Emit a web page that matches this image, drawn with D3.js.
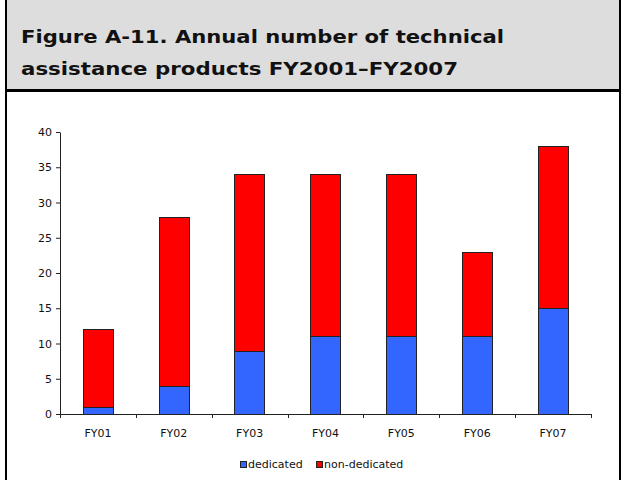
<!DOCTYPE html>
<meta charset="utf-8">
<title>Figure A-11</title>
<style>
body { margin: 0; background: #fff; }
svg { display: block; font-family: Verdana, "DejaVu Sans", sans-serif; }
</style>
<body>
<script src="https://cdn.jsdelivr.net/npm/d3@7"></script>
<script>
'use strict';

// values
const years = ["FY01", "FY02", "FY03", "FY04", "FY05", "FY06", "FY07"];
const dedicated = [1, 4, 9, 11, 11, 11, 15];
const nonDedicated = [11, 24, 25, 23, 23, 12, 23];
const seriesNames = ["dedicated", "non-dedicated"];
const seriesColors = ["#3366ff", "#ff0000"];
const yTicks = [0, 5, 10, 15, 20, 25, 30, 35, 40];
const titleLines = ["Figure A-11. Annual number of technical", "assistance products FY2001\u2013FY2007"];

const W = 632, H = 480;
const plot = {left: 60, right: 591, top: 132, bottom: 414};

const svg = d3.select("body").append("svg")
    .attr("width", W)
    .attr("height", H);

// title band + frame
svg.append("rect")
    .attr("x", 6).attr("y", -2)
    .attr("width", 614).attr("height", 92)
    .attr("fill", "#dddddd");
svg.append("rect")
    .attr("x", 6).attr("y", -2)
    .attr("width", 614).attr("height", H + 4)
    .attr("fill", "none")
    .attr("stroke", "#000")
    .attr("stroke-width", 2);
svg.append("line")
    .attr("x1", 6).attr("x2", 620)
    .attr("y1", 90.5).attr("y2", 90.5)
    .attr("stroke", "#000")
    .attr("stroke-width", 3);

// title: stretch to the widths of the original (Verdana is wider than DejaVu)
const titleWidths = [483, 437];
svg.selectAll(".title")
  .data(titleLines)
  .join("text")
    .attr("class", "title")
    .attr("x", 21)
    .attr("y", (d, i) => 43 + i * 32)
    .attr("font-weight", "bold")
    .attr("font-size", 17.5)
    .attr("fill", "#111")
    .attr("textLength", (d, i) => titleWidths[i])
    .attr("lengthAdjust", "spacingAndGlyphs")
    .text(d => d);

// data table
const rows = years.map((yr, i) => ({year: yr, dedicated: dedicated[i], "non-dedicated": nonDedicated[i]}));
const stacked = d3.stack().keys(seriesNames)(rows);

const x = d3.scaleBand().domain(years).range([plot.left, plot.right]);
const y = d3.scaleLinear().domain([0, 40]).range([plot.bottom, plot.top]);
const color = d3.scaleOrdinal().domain(seriesNames).range(seriesColors);
const barW = x.bandwidth() * 0.4;

// y axis
const yAxis = svg.append("g")
    .attr("transform", `translate(${plot.left},0)`)
    .call(d3.axisLeft(y).tickValues(yTicks).tickSize(4).tickSizeOuter(0).tickPadding(4));
yAxis.selectAll("text").attr("font-size", 11).attr("fill", "#111").attr("font-family", "Verdana, 'DejaVu Sans', sans-serif");
yAxis.selectAll("line, path").attr("stroke", "#222");

// bars
svg.append("g").selectAll("g")
  .data(stacked)
  .join("g")
    .attr("fill", d => color(d.key))
  .selectAll("rect")
  .data(d => d)
  .join("rect")
    .attr("x", d => Math.round(x(d.data.year) + (x.bandwidth() - barW) / 2) + 0.5)
    .attr("y", d => Math.round(y(d[1])) + 0.5)
    .attr("width", Math.round(barW))
    .attr("height", d => Math.round(y(d[0])) - Math.round(y(d[1])))
    .attr("stroke", "#222")
    .attr("stroke-width", 1);

// x axis: line with ticks at category boundaries
const xg = svg.append("g");
xg.append("line")
    .attr("x1", plot.left).attr("x2", plot.right)
    .attr("y1", plot.bottom + 0.5).attr("y2", plot.bottom + 0.5)
    .attr("stroke", "#222");
xg.selectAll(".tk")
  .data(years.concat(["end"]))
  .join("line")
    .attr("class", "tk")
    .attr("x1", (d, i) => Math.round(plot.left + i * x.step()) + 0.5)
    .attr("x2", (d, i) => Math.round(plot.left + i * x.step()) + 0.5)
    .attr("y1", plot.bottom)
    .attr("y2", plot.bottom + 4)
    .attr("stroke", "#222");
xg.selectAll(".lbl")
  .data(years)
  .join("text")
    .attr("class", "lbl")
    .attr("x", d => x(d) + x.bandwidth() / 2)
    .attr("y", 437)
    .attr("text-anchor", "middle")
    .attr("font-size", 11)
    .attr("fill", "#111")
    .text(d => d);

// legend
const legend = svg.append("g").attr("transform", "translate(240,468)");
const legX = [0, 76];
const item = legend.selectAll("g")
  .data(seriesNames)
  .join("g")
    .attr("transform", (d, i) => `translate(${legX[i]},0)`);
item.append("rect")
    .attr("x", 0.5).attr("y", -6.5)
    .attr("width", 6).attr("height", 6)
    .attr("fill", d => color(d))
    .attr("stroke", "#222");
item.append("text")
    .attr("x", 8).attr("y", 0)
    .attr("font-size", 11)
    .attr("fill", "#111")
    .text(d => d);
</script>
</body>
